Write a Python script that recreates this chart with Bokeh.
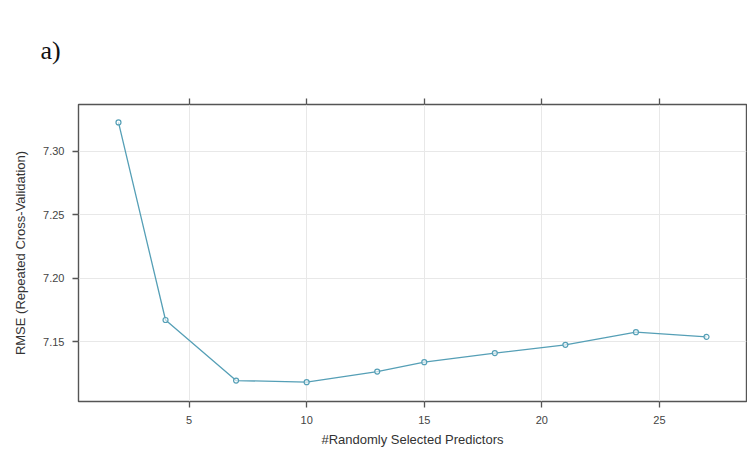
from bokeh.plotting import figure
from bokeh.models import (LinearAxis, FixedTicker, PrintfTickFormatter, Range1d, Title)
from bokeh.embed import file_html
from bokeh.resources import INLINE

mtry = [2, 4, 7, 10, 13, 15, 18, 21, 24, 27]
rmse = [7.3226, 7.1670, 7.1193, 7.1180, 7.1264, 7.1338, 7.1409, 7.1474, 7.1574, 7.1537]
x_ticks = [5, 10, 15, 20, 25]
y_ticks = [7.15, 7.20, 7.25, 7.30]

LINE = "#559fb6"
BOX = "#555555"
TXT = "#444444"

p = figure(width=747, height=450, output_backend="svg", toolbar_location=None,
           x_range=Range1d(0.3, 28.7), y_range=Range1d(7.1028, 7.3367),
           min_border_left=78, min_border_right=1, min_border_top=104, min_border_bottom=49)

p.title = Title(text="a)", align="left", offset=-38, standoff=64, vertical_align="top",
                text_font="Liberation Serif", text_font_size="26px",
                text_font_style="normal", text_color="#111111")

p.line(mtry, rmse, line_color=LINE, line_width=1.3)
p.scatter(mtry, rmse, marker="circle", size=5, fill_color="white", fill_alpha=0.6,
          line_color=LINE, line_width=1.2)

p.outline_line_color = BOX
p.outline_line_width = 1.4
p.background_fill_color = "white"
p.border_fill_color = "white"

for ax in p.xaxis + p.yaxis:
    ax.axis_line_color = None
    ax.major_tick_line_color = BOX
    ax.major_tick_line_width = 1.3
    ax.major_tick_in = 0
    ax.major_tick_out = 6
    ax.minor_tick_line_color = None
    ax.major_label_text_font = "Liberation Sans"
    ax.major_label_text_font_size = "11px"
    ax.major_label_text_color = TXT
    ax.axis_label_text_font = "Liberation Sans"
    ax.axis_label_text_font_size = "13px"
    ax.axis_label_text_font_style = "normal"
    ax.axis_label_text_color = "#333333"

p.xaxis.ticker = FixedTicker(ticks=x_ticks)
p.yaxis.ticker = FixedTicker(ticks=y_ticks)
p.yaxis.formatter = PrintfTickFormatter(format="%.2f")
p.xaxis.axis_label = "#Randomly Selected Predictors"
p.yaxis.axis_label = "RMSE (Repeated Cross-Validation)"
p.xaxis.major_label_standoff = 8
p.yaxis.major_label_standoff = 8
p.xaxis.axis_label_standoff = 5
p.yaxis.axis_label_standoff = 12

top = LinearAxis(ticker=FixedTicker(ticks=x_ticks), axis_line_color=None,
                 major_tick_line_color=BOX, major_tick_line_width=1.3,
                 major_tick_in=0, major_tick_out=6, minor_tick_line_color=None,
                 major_label_text_font_size="0px", major_label_text_color=None)
p.add_layout(top, "above")

p.xgrid.ticker = FixedTicker(ticks=x_ticks)
p.ygrid.ticker = FixedTicker(ticks=y_ticks)
p.grid.grid_line_color = "#e8e8e8"
p.grid.grid_line_width = 1

open("out.html", "w").write(file_html(p, INLINE))
